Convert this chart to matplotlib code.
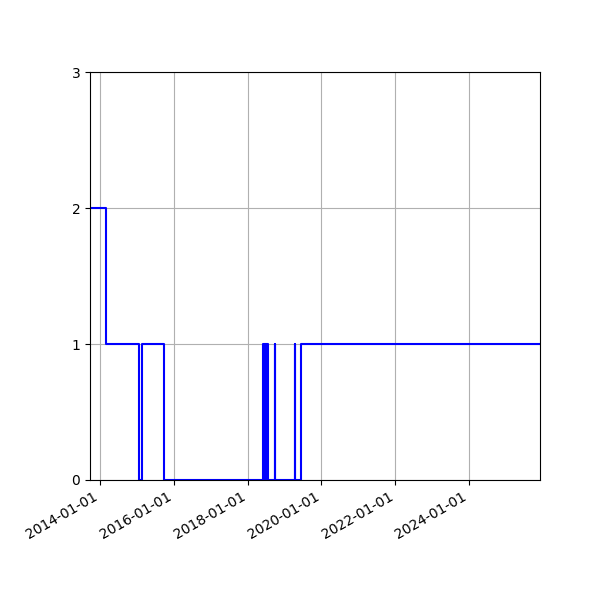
import matplotlib
matplotlib.use("Agg")
import matplotlib.pyplot as plt
import matplotlib.dates as mdates
import numpy as np

# dates where the count changes, and the count from that date on
dates = ["2013-09-24", "2014-02-26", "2015-01-22", "2015-02-25", "2015-09-27",
         "2018-06-03", "2018-06-18", "2018-06-22", "2018-07-08", "2018-07-12",
         "2018-07-24", "2018-09-26", "2018-09-29", "2019-04-12", "2019-04-15",
         "2019-06-11", "2025-12-02"]
values = [2, 1, 0, 1, 0,
          1, 0, 1, 0, 1,
          0, 1, 0, 1, 0,
          1, 1]

x = np.array(dates, dtype="datetime64[D]")

fig, ax = plt.subplots(figsize=(6, 6), dpi=100)
ax.step(x, values, where="post", color="blue")
ax.set_xlim(x[0], x[-1])
ax.set_ylim(0, 3)
ax.set_yticks([0, 1, 2, 3])
ax.xaxis.set_major_locator(mdates.YearLocator(2))
ax.xaxis.set_major_formatter(mdates.DateFormatter("%Y-%m-%d"))
ax.grid(True)
fig.autofmt_xdate()
fig.subplots_adjust(left=0.15, right=0.9, top=0.88, bottom=0.2)
fig.savefig("out.png")
